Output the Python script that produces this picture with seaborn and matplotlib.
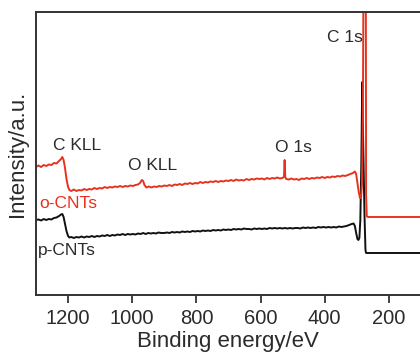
import matplotlib
matplotlib.use("Agg")
import matplotlib.pyplot as plt
import seaborn as sns
import pandas as pd

# ---- data (binding energy in eV, intensity in arbitrary units) ----
red_energy = [1300, 1292, 1284, 1276, 1268, 1260, 1252, 1244, 1236, 1228, 1222, 1218, 1214, 1210, 1205, 1200,
              1196, 1190, 1182, 1174, 1166, 1158, 1150, 1142, 1134, 1126, 1118, 1110, 1102, 1094, 1086, 1078,
              1070, 1062, 1054, 1046, 1038, 1030, 1022, 1014, 1006, 998, 990, 982, 976, 970, 966, 962, 956,
              948, 940, 932, 924, 916, 908, 900, 892, 884, 876, 868, 860, 852, 844, 836, 828, 820, 812, 804,
              796, 788, 780, 772, 764, 756, 748, 740, 732, 724, 716, 708, 700, 692, 684, 676, 668, 660, 652,
              644, 636, 628, 620, 612, 604, 596, 588, 580, 572, 564, 556, 548, 540, 532, 527, 525, 523, 520,
              512, 504, 496, 488, 480, 472, 464, 456, 448, 440, 432, 424, 416, 408, 400, 392, 384, 376, 368,
              360, 352, 344, 336, 328, 320, 312, 306, 302, 298, 294, 290, 287, 284, 281, 279, 272, 271, 269,
              266, 250, 200, 150, 100]
red_intensity = [128, 129.5, 128, 130, 129, 130.5, 130, 132, 131.5, 134, 136, 138, 135, 128, 116, 108,
                 105, 104, 105.5, 104, 105, 104.5, 106, 105, 106, 105.5, 107, 106, 107, 106.5, 108, 107,
                 108, 107.5, 108.5, 108, 109, 108, 109, 108.5, 109.5, 109, 110, 110.5, 112, 115, 114, 110, 107.5,
                 108.5, 107.5, 108.5, 108, 109, 108.5, 109.5, 109, 110, 109, 110.5, 110, 111, 110, 111.5, 111, 112, 111, 112,
                 111.5, 113, 112, 113, 112.5, 113.5, 113, 114, 113, 114, 113.5, 114.5, 114, 115, 114, 115.5, 114.5, 115, 114.5,
                 116, 115, 116, 115.5, 116.5, 116, 116.5, 115.5, 117, 116, 117, 116.5, 117.5, 116.5, 117, 118, 135, 118, 116,
                 115.5, 116.5, 115.5, 116, 115, 116.5, 116, 117, 116, 117, 116.5, 117.5, 117, 118, 117, 118, 117.5, 118.5, 118,
                 119, 118.5, 119.5, 119, 120, 121, 122, 123.5, 121, 112, 103, 97, 97, 110, 180, 330, 330, 100, 79,
                 78, 78, 78, 78, 78]

black_energy = [1300, 1292, 1284, 1276, 1268, 1260, 1252, 1244, 1236, 1228, 1222, 1218, 1214, 1210, 1205, 1200,
                1196, 1190, 1182, 1174, 1166, 1158, 1150, 1142, 1134, 1126, 1118, 1110, 1102, 1094, 1086, 1078,
                1070, 1062, 1054, 1046, 1038, 1030, 1022, 1014, 1006, 998, 990, 982, 974, 966, 958, 950, 942,
                934, 926, 918, 910, 900, 892, 884, 876, 868, 860, 852, 844, 836, 828, 820, 812, 804, 796, 788,
                780, 772, 764, 756, 748, 740, 732, 724, 716, 708, 700, 692, 684, 676, 668, 660, 652, 644, 636,
                628, 620, 612, 604, 596, 588, 580, 572, 564, 556, 548, 540, 532, 524, 516, 508, 500, 492, 484,
                476, 468, 460, 452, 444, 436, 428, 420, 412, 404, 396, 388, 380, 372, 364, 356, 348, 340, 332,
                324, 316, 310, 306, 302, 298, 295, 292, 289, 286, 283, 280, 276, 273, 271, 250, 100]
black_intensity = [75, 75.5, 74.5, 76, 75, 76, 75.5, 77, 77.5, 79, 80.5, 81, 78, 72, 64, 59,
                   57.5, 58, 57, 58, 57.5, 58.5, 57.5, 58.5, 58, 59, 58, 59, 58.5, 59.5, 59, 60,
                   59, 60, 59.5, 60.5, 60, 61, 60, 61, 60.5, 61, 60.5, 61.5, 61, 62, 61, 62, 61.5,
                   62, 61.5, 62.5, 62, 62, 62.5, 62, 63, 62.5, 63, 62.5, 63.5, 63, 63.5, 63, 64, 63.5, 64, 63.5,
                   64.5, 64, 64.5, 64, 65, 64.5, 65, 64.5, 65.5, 65, 65.5, 65, 66, 65.5, 66, 65.5, 66.5, 66, 66,
                   65.5, 66.5, 66, 66.5, 66, 66.5, 66, 67, 66.5, 67, 66.5, 67, 66.5, 67, 66.5, 67, 66.5, 67, 67,
                   66.5, 67.5, 67, 67.5, 67, 67.5, 67, 68, 67.5, 68, 67.5, 68, 67.5, 68, 67.5, 68.5, 68, 68.5, 69,
                   70, 71, 71.5, 69, 62, 56, 55, 57, 75, 130, 213, 150, 80, 45, 42, 42, 42]

tick_values = [1200, 1000, 800, 600, 400, 200]
peak_labels = ["C 1s", "C KLL", "O KLL", "O 1s"]
peak_label_E = [281, 1173, 938, 499]
peak_label_I = [258, 150, 129, 147]
series_names = ["p-CNTs", "o-CNTs"]

red_df = pd.DataFrame({"E": red_energy, "I": red_intensity})
black_df = pd.DataFrame({"E": black_energy, "I": black_intensity})

sns.set_style("ticks")
plt.rcParams["font.family"] = ["Liberation Sans", "DejaVu Sans"]

RED = "#e8321e"
DARK = "#111111"
TXT = "#2b2b2b"

fig = plt.figure(figsize=(4.2, 3.54), dpi=100)
ax = fig.add_axes([36 / 420, 59 / 354, 384 / 420, 283 / 354])

sns.lineplot(data=black_df, x="E", y="I", sort=False, color=DARK, lw=1.4, ax=ax, estimator=None)
sns.lineplot(data=red_df, x="E", y="I", sort=False, color=RED, lw=1.4, ax=ax, estimator=None)

ax.set_xlim(1300, 103)
ax.set_ylim(0, 283)
ax.set_xticks(tick_values)
ax.set_xticklabels([str(v) for v in tick_values])
ax.set_yticks([])
ax.tick_params(axis="x", direction="out", length=6, width=1.3, color="#333333",
               labelsize=14.5, labelcolor=TXT, pad=4)

for s in ["left", "bottom", "top"]:
    ax.spines[s].set_color("#333333")
    ax.spines[s].set_linewidth(1.4)
ax.spines["right"].set_visible(False)

ax.set_xlabel("Binding energy/eV", fontsize=16, color=TXT, labelpad=2)
ax.set_ylabel("Intensity/a.u.", fontsize=16, color=TXT, labelpad=6)

for lab, e, i in zip(peak_labels, peak_label_E, peak_label_I):
    ha = "right" if lab == "C 1s" else "center"
    ax.text(e, i, lab, fontsize=12.5, color=TXT, ha=ha, va="center")

ax.text(1290, 92, series_names[1], fontsize=12.5, color=RED, ha="left", va="center")
ax.text(1293, 45, series_names[0], fontsize=12.5, color=TXT, ha="left", va="center")

fig.savefig("out.png", dpi=100)
